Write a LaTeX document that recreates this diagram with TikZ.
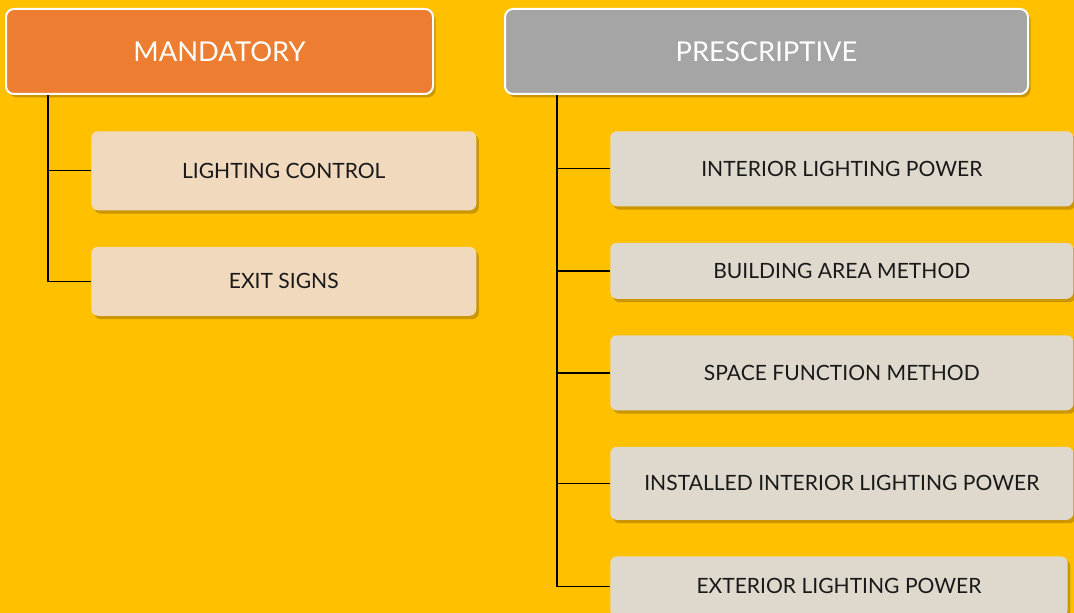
\documentclass[tikz,border=0pt]{standalone}
\usepackage{fontspec}
\setmainfont{Lato}
\usetikzlibrary{positioning,shadows}
\definecolor{bgyellow}{HTML}{FFC000}
\definecolor{mandorange}{HTML}{ED7D31}
\definecolor{presgray}{HTML}{A5A5A5}
\definecolor{peach}{HTML}{F1D9BE}
\definecolor{stone}{HTML}{DFD9CD}

\begin{document}
\begin{tikzpicture}[
    x=0.75pt, y=-0.75pt,
    node distance=27pt,
    head/.style={
      rectangle, rounded corners=6pt,
      draw=white, line width=1.5pt,
      text=white, font=\fontsize{20.5}{24}\selectfont,
      minimum height=63.75pt,
      drop shadow={shadow xshift=2pt, shadow yshift=-2.5pt, opacity=0.25, fill=black!80!orange}
    },
    item/.style={
      rectangle, rounded corners=5pt,
      text=black!90, font=\fontsize{15.8}{18}\selectfont,
      drop shadow={shadow xshift=2pt, shadow yshift=-2.5pt, opacity=0.25, fill=black!80!orange}
    },
    mitem/.style={item, fill=peach, minimum width=288.75pt},
    pitem/.style={item, fill=stone, minimum width=347.25pt},
    link/.style={line width=1.1pt, black},
  ]

  \useasboundingbox (0,0) rectangle (1074,613);
  \fill[bgyellow] (0,0) rectangle (1074,613);

  % Headers
  \node[head, fill=mandorange, minimum width=320.25pt] (mand) at (219.5,51.5) {MANDATORY};
  \node[head, fill=presgray,   minimum width=392.25pt] (pres) at (766.5,51.5) {PRESCRIPTIVE};

  % Mandatory items
  \node[mitem, anchor=north west, minimum height=59.25pt] (lctrl)
        at ([xshift=64.5pt, yshift=-27pt]mand.south west) {LIGHTING CONTROL};
  \node[mitem, below=of lctrl, minimum height=51.75pt] (exit) {EXIT SIGNS};

  % Prescriptive items
  \node[pitem, anchor=north west, minimum height=56.25pt] (ilp)
        at ([xshift=79.5pt, yshift=-27pt]pres.south west) {INTERIOR LIGHTING POWER};
  \node[pitem, below=of ilp,  minimum height=42pt]    (bam)  {BUILDING AREA METHOD};
  \node[pitem, below=of bam,  minimum height=56.25pt] (sfm)  {SPACE FUNCTION METHOD};
  \node[pitem, below=of sfm,  minimum height=54.75pt] (iilp) {INSTALLED INTERIOR LIGHTING POWER};
  \node[pitem, below=of iilp.south west, anchor=north west, minimum height=45pt, minimum width=343pt]
        (elp) {EXTERIOR LIGHTING POWER};

  % Trunks
  \coordinate (mroot) at ([xshift=32.25pt]mand.south west);
  \coordinate (proot) at ([xshift=39.75pt]pres.south west);

  % Edges
  \draw[link] (mroot) |- (lctrl.west);
  \draw[link] (mroot) |- (exit.west);
  \draw[link] (proot) |- (ilp.west);
  \draw[link] (proot) |- (bam.west);
  \draw[link] (proot) |- (sfm.west);
  \draw[link] (proot) |- (iilp.west);
  \draw[link] (proot) |- (elp.west);

\end{tikzpicture}
\end{document}
